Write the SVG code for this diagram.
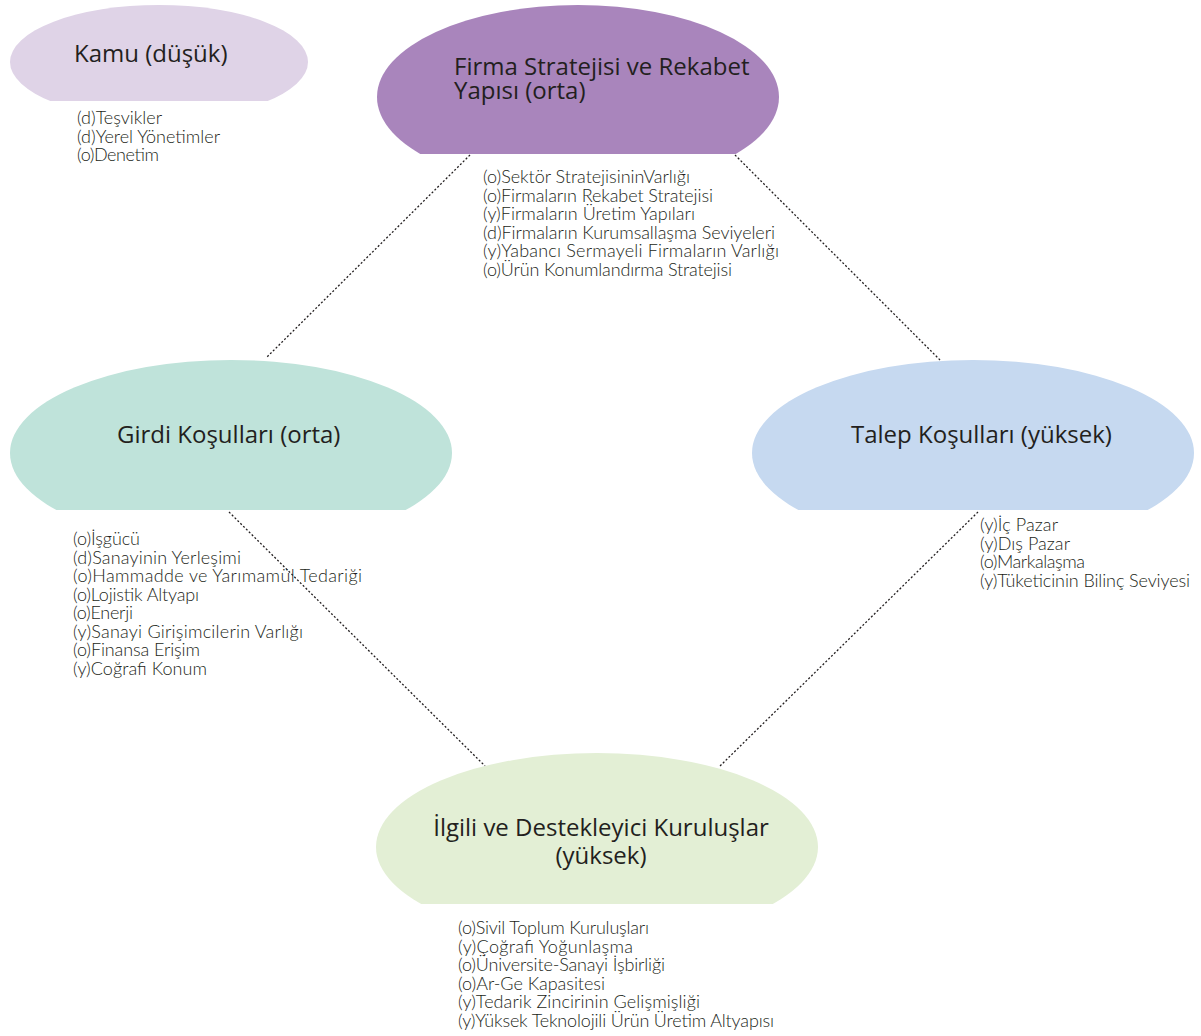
<svg xmlns="http://www.w3.org/2000/svg" width="1201" height="1036" viewBox="0 0 1201 1036">
<defs>
<style>
.title{font-family:"Open Sans","Noto Sans","Liberation Sans",sans-serif;font-size:24px;fill:#231f20;}
.item{font-family:"Lato","Liberation Sans",sans-serif;font-weight:300;font-size:18px;fill:#231f20;}
.conn{stroke:#231f20;stroke-width:1.3;stroke-dasharray:2 2;fill:none;}
</style>
<clipPath id="cKamu"><rect x="0" y="0" width="320" height="101"/></clipPath>
<clipPath id="cFirma"><rect x="360" y="0" width="440" height="154"/></clipPath>
<clipPath id="cGirdi"><rect x="0" y="350" width="470" height="160"/></clipPath>
<clipPath id="cTalep"><rect x="740" y="350" width="461" height="160"/></clipPath>
<clipPath id="cIlgili"><rect x="360" y="740" width="470" height="164"/></clipPath>
</defs>
<rect width="1201" height="1036" fill="#ffffff"/>
<g id="connectors">
<line class="conn" x1="470" y1="155" x2="266" y2="358"/>
<line class="conn" x1="735" y1="155" x2="940" y2="360"/>
<line class="conn" x1="229" y1="512" x2="485" y2="766"/>
<line class="conn" x1="978" y1="512" x2="719" y2="767"/>
</g>
<g id="kamu">
<ellipse cx="159" cy="62" rx="149" ry="57" fill="#dfd3e7" clip-path="url(#cKamu)"/>
<text class="title" x="74" y="62">Kamu (düşük)</text>
<text class="item" x="77" y="124" textLength="85" lengthAdjust="spacing">(d)Teşvikler</text>
<text class="item" x="77" y="143" textLength="143" lengthAdjust="spacing">(d)Yerel Yönetimler</text>
<text class="item" x="77" y="161" textLength="82" lengthAdjust="spacing">(o)Denetim</text>
</g>
<g id="firma">
<ellipse cx="578" cy="97" rx="201" ry="92" fill="#a985bc" clip-path="url(#cFirma)"/>
<text class="title" x="454" y="75">Firma Stratejisi ve Rekabet</text>
<text class="title" x="454" y="99">Yapısı (orta)</text>
<text class="item" x="483" y="183" textLength="207" lengthAdjust="spacing">(o)Sektör StratejisininVarlığı</text>
<text class="item" x="483" y="202" textLength="230" lengthAdjust="spacing">(o)Firmaların Rekabet Stratejisi</text>
<text class="item" x="483" y="220" textLength="212" lengthAdjust="spacing">(y)Firmaların Üretim Yapıları</text>
<text class="item" x="483" y="239" textLength="292" lengthAdjust="spacing">(d)Firmaların Kurumsallaşma Seviyeleri</text>
<text class="item" x="483" y="257" textLength="296" lengthAdjust="spacing">(y)Yabancı Sermayeli Firmaların Varlığı</text>
<text class="item" x="483" y="276" textLength="249" lengthAdjust="spacing">(o)Ürün Konumlandırma Stratejisi</text>
</g>
<g id="girdi">
<ellipse cx="231" cy="453" rx="221" ry="93" fill="#bfe3da" clip-path="url(#cGirdi)"/>
<text class="title" x="117" y="443">Girdi Koşulları (orta)</text>
<text class="item" x="73" y="545" textLength="67" lengthAdjust="spacing">(o)İşgücü</text>
<text class="item" x="73" y="564" textLength="168" lengthAdjust="spacing">(d)Sanayinin Yerleşimi</text>
<text class="item" x="73" y="582" textLength="289" lengthAdjust="spacing">(o)Hammadde ve Yarımamül Tedariği</text>
<text class="item" x="73" y="601" textLength="126" lengthAdjust="spacing">(o)Lojistik Altyapı</text>
<text class="item" x="73" y="619" textLength="60" lengthAdjust="spacing">(o)Enerji</text>
<text class="item" x="73" y="638" textLength="230" lengthAdjust="spacing">(y)Sanayi Girişimcilerin Varlığı</text>
<text class="item" x="73" y="656" textLength="127" lengthAdjust="spacing">(o)Finansa Erişim</text>
<text class="item" x="73" y="675" textLength="134" lengthAdjust="spacing">(y)Coğrafi Konum</text>
</g>
<g id="talep">
<ellipse cx="973" cy="453" rx="221" ry="93" fill="#c6d9f0" clip-path="url(#cTalep)"/>
<text class="title" x="851" y="443">Talep Koşulları (yüksek)</text>
<text class="item" x="980" y="531" textLength="78" lengthAdjust="spacing">(y)İç Pazar</text>
<text class="item" x="980" y="550" textLength="90" lengthAdjust="spacing">(y)Dış Pazar</text>
<text class="item" x="980" y="568" textLength="105" lengthAdjust="spacing">(o)Markalaşma</text>
<text class="item" x="980" y="587" textLength="210" lengthAdjust="spacing">(y)Tüketicinin Bilinç Seviyesi</text>
</g>
<g id="ilgili">
<ellipse cx="597" cy="847" rx="221" ry="94" fill="#e3efd5" clip-path="url(#cIlgili)"/>
<text class="title" x="601" y="836" text-anchor="middle">İlgili ve Destekleyici Kuruluşlar</text>
<text class="title" x="601" y="864" text-anchor="middle">(yüksek)</text>
<text class="item" x="458" y="934" textLength="191" lengthAdjust="spacing">(o)Sivil Toplum Kuruluşları</text>
<text class="item" x="458" y="953" textLength="175" lengthAdjust="spacing">(y)Çoğrafi Yoğunlaşma</text>
<text class="item" x="458" y="971" textLength="207" lengthAdjust="spacing">(o)Üniversite-Sanayi İşbirliği</text>
<text class="item" x="458" y="990" textLength="147" lengthAdjust="spacing">(o)Ar-Ge Kapasitesi</text>
<text class="item" x="458" y="1008" textLength="242" lengthAdjust="spacing">(y)Tedarik Zincirinin Gelişmişliği</text>
<text class="item" x="458" y="1027" textLength="316" lengthAdjust="spacing">(y)Yüksek Teknolojili Ürün Üretim Altyapısı</text>
</g>
</svg>
